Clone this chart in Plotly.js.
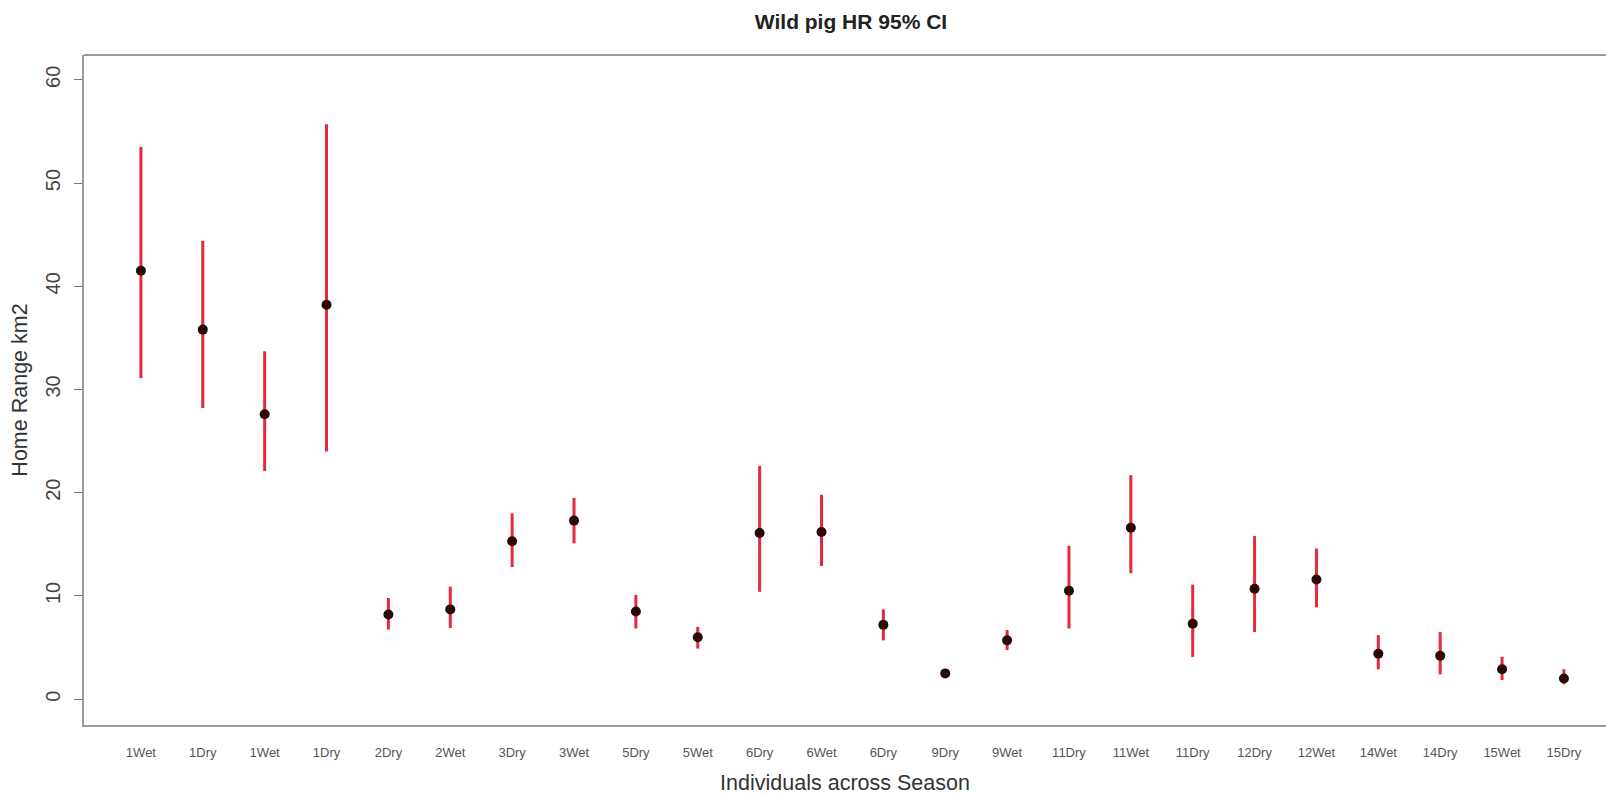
<!DOCTYPE html>
<html>
<head>
<meta charset="utf-8">
<script src="https://cdn.plot.ly/plotly-3.0.1.min.js"></script>
<style>
  html, body { margin: 0; padding: 0; background: #ffffff; }
  #chart { width: 1606px; height: 796px; }
</style>
</head>
<body>
<div id="chart"></div>
<script>
// Individual x season labels (individuals repeat across seasons)
const labels = ["1Wet", "1Dry", "1Wet", "1Dry", "2Dry", "2Wet", "3Dry", "3Wet",
                "5Dry", "5Wet", "6Dry", "6Wet", "6Dry", "9Dry", "9Wet", "11Dry",
                "11Wet", "11Dry", "12Dry", "12Wet", "14Wet", "14Dry", "15Wet", "15Dry"];

// Home range estimates (km2)
const hrEstimate = [41.5, 35.8, 27.6, 38.2, 8.2, 8.7, 15.3, 17.3,
                    8.5, 6.0, 16.1, 16.2, 7.2, 2.5, 5.7, 10.5,
                    16.6, 7.3, 10.7, 11.6, 4.4, 4.2, 2.9, 2.0];

// Upper and lower 95% confidence limits (km2)
const ciUpper = [53.5, 44.4, 33.7, 55.7, 9.8, 10.9, 18.0, 19.5,
                 10.1, 7.0, 22.6, 19.8, 8.7, 2.7, 6.7, 14.85,
                 21.7, 11.1, 15.8, 14.6, 6.2, 6.5, 4.1, 2.9];
const ciLower = [31.1, 28.2, 22.1, 24.0, 6.75, 6.9, 12.8, 15.1,
                 6.85, 4.9, 10.4, 12.9, 5.7, 2.3, 4.75, 6.85,
                 12.2, 4.1, 6.5, 8.9, 2.9, 2.4, 1.85, 1.45];

const yTicks = [0, 10, 20, 30, 40, 50, 60];

const xPos = labels.map((_, i) => i);
const errPlus = ciUpper.map((u, i) => u - hrEstimate[i]);
const errMinus = ciLower.map((l, i) => hrEstimate[i] - l);

const trace = {
  type: "scatter",
  mode: "markers",
  x: xPos,
  y: hrEstimate,
  marker: { color: "#2a0709", size: 10, line: { width: 0 } },
  error_y: {
    type: "data",
    symmetric: false,
    array: errPlus,
    arrayminus: errMinus,
    color: "#e8283c",
    thickness: 3,
    width: 0
  },
  hoverinfo: "skip",
  showlegend: false
};

const font = "Liberation Sans, Arial, sans-serif";

const layout = {
  width: 1606,
  height: 796,
  paper_bgcolor: "#ffffff",
  plot_bgcolor: "#ffffff",
  margin: { l: 84, r: 0, t: 55, b: 71 },
  showlegend: false,
  title: {
    text: "<b>Wild pig HR 95% CI</b>",
    font: { family: font, size: 21, color: "#222222" },
    x: 851 / 1606,
    xref: "container",
    xanchor: "center",
    y: 1 - 22 / 796,
    yref: "container",
    yanchor: "middle"
  },
  xaxis: {
    range: [-0.92, 23.68],
    tickvals: xPos,
    ticktext: labels,
    ticks: "",
    showgrid: false,
    zeroline: false,
    showline: true,
    linecolor: "#9a9a9a",
    linewidth: 2,
    tickfont: { family: font, size: 13, color: "#555555" },
    ticklabelstandoff: 14,
    title: {
      text: "Individuals across Season",
      font: { family: font, size: 21.5, color: "#333333" },
      standoff: 16
    },
    automargin: false
  },
  yaxis: {
    range: [-2.5, 62.4],
    tickvals: yTicks,
    ticktext: yTicks.map(String),
    tickangle: -90,
    ticks: "outside",
    ticklen: 8,
    tickwidth: 1,
    tickcolor: "#777777",
    showgrid: false,
    zeroline: false,
    showline: true,
    linecolor: "#9a9a9a",
    linewidth: 2,
    tickfont: { family: font, size: 20, color: "#444444" },
    ticklabelstandoff: 6,
    title: {
      text: "Home Range km2",
      font: { family: font, size: 21.5, color: "#333333" },
      standoff: 8
    },
    automargin: false
  },
  shapes: [
    {
      type: "line",
      xref: "paper", yref: "paper",
      x0: 0, x1: 1, y0: 1, y1: 1,
      line: { color: "#9a9a9a", width: 2 }
    }
  ]
};

Plotly.newPlot("chart", [trace], layout, { displayModeBar: false, staticPlot: true });
</script>
</body>
</html>
